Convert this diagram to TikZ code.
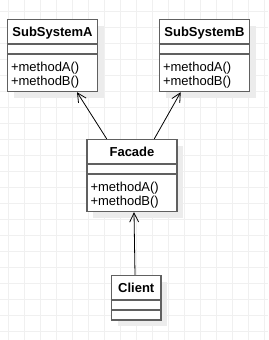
\documentclass[tikz,border=0pt]{standalone}
\usepackage{fontspec}
\setmainfont{Liberation Sans}
\usetikzlibrary{arrows.meta,positioning,calc,shadows}
\definecolor{gridcolor}{RGB}{240,240,240}
\definecolor{boxline}{RGB}{96,96,96}
\definecolor{shadowcolor}{RGB}{236,236,236}

\begin{document}
\begin{tikzpicture}[x=1pt,y=-1pt,every node/.style={font=\fontsize{13}{13.7}\selectfont,inner sep=0pt},
  gridline/.style={draw=gridcolor,line width=0.8pt},
  classbox/.style={draw=boxline,line width=1.3pt,fill=white,minimum width=90pt,minimum height=72pt,
    drop shadow={shadow xshift=6pt,shadow yshift=-6pt,fill=shadowcolor,opacity=1}},
  classline/.style={draw=boxline,line width=1.3pt},
  classtitle/.style={font=\fontsize{13}{13.7}\selectfont\bfseries,anchor=base},
  classops/.style={align=left,anchor=base west},
  dep/.style={-{Straight Barb[length=9pt,width=9pt]},line width=0.8pt}]
\useasboundingbox[fill=white] (0,0) rectangle (268,340);
% background grid
\foreach \gx in {8,24,...,264} \draw[gridline] (\gx,0) -- (\gx,340);
\foreach \gy in {11.5,27.5,...,331.5} \draw[gridline] (0,\gy) -- (268,\gy);
% classes
\node[classbox](suba) at (52.5,55.5) {};
\node[classbox](subb) at (204.5,55.5) {};
\node[classbox](fac) at (132,175.5) {};
\node[classbox,minimum width=49.5pt,minimum height=44.5pt](client) at (136.25,297.75) {};
\foreach \cls in {suba,subb,fac,client}{
  \draw[classline] ([yshift=-25pt]\cls.north west) -- ([yshift=-25pt]\cls.north east);
  \draw[classline] ([yshift=-35pt]\cls.north west) -- ([yshift=-35pt]\cls.north east);
}
\node[classtitle](subatitle) at ([yshift=-17.8pt]suba.north) {SubSystemA};
\node[classtitle](subbtitle) at ([yshift=-17.8pt]subb.north) {SubSystemB};
\node[classtitle](factitle) at ([yshift=-17.8pt]fac.north) {Facade};
\node[classtitle](clienttitle) at ([yshift=-17.8pt]client.north) {Client};
\node[classops](subaops) at ([xshift=4pt,yshift=-66.5pt]suba.north west) {+methodA()\\+methodB()};
\node[classops](subbops) at ([xshift=4pt,yshift=-66.5pt]subb.north west) {+methodA()\\+methodB()};
\node[classops](facops) at ([xshift=4pt,yshift=-66.5pt]fac.north west) {+methodA()\\+methodB()};
% dependencies
\draw[dep] ([xshift=-25.3pt]fac.north) -- ([xshift=24.5pt]suba.south);
\draw[dep] ([xshift=22.3pt]fac.north) -- ([xshift=-23.8pt]subb.south);
\draw[dep] ([xshift=-1.25pt]client.north) -- ([xshift=2pt]fac.south);
\end{tikzpicture}
\end{document}
